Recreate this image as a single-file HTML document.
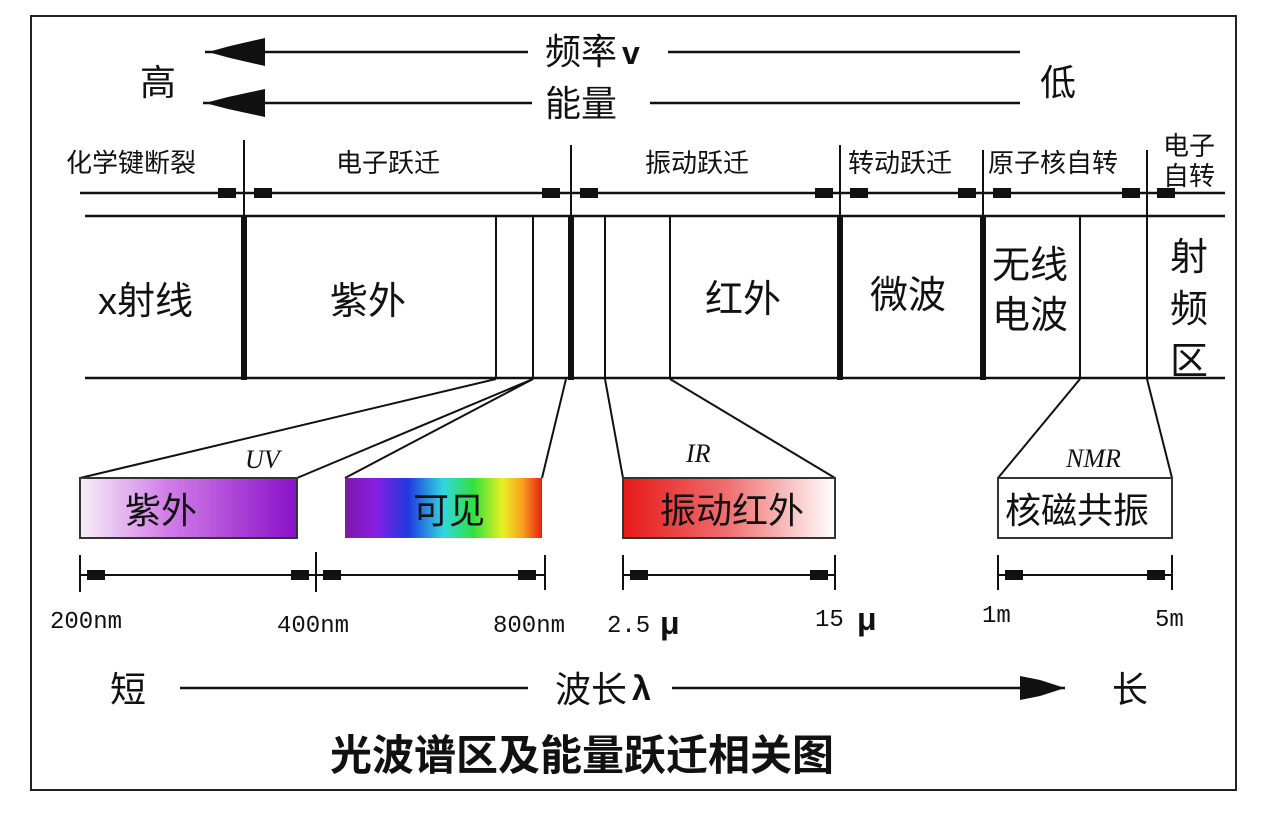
<!DOCTYPE html>
<html><head><meta charset="utf-8"><style>
body{margin:0;background:#fff;}
svg text{font-family:"Liberation Sans","Noto Sans CJK SC",sans-serif;fill:#111;}
</style></head><body>
<svg width="1280" height="810" viewBox="0 0 1280 810" xmlns="http://www.w3.org/2000/svg">
<defs>
<linearGradient id="uv" x1="0" x2="1"><stop offset="0" stop-color="#f6eef8"/><stop offset="0.4" stop-color="#d27ee8"/><stop offset="1" stop-color="#8a10c8"/></linearGradient>
<linearGradient id="vis" x1="0" x2="1"><stop offset="0" stop-color="#7a1aa8"/><stop offset="0.15" stop-color="#8a1ee0"/><stop offset="0.32" stop-color="#2038e0"/><stop offset="0.5" stop-color="#30d8e0"/><stop offset="0.65" stop-color="#30e040"/><stop offset="0.8" stop-color="#e8f020"/><stop offset="0.9" stop-color="#f8a020"/><stop offset="1" stop-color="#e82010"/></linearGradient>
<linearGradient id="ir" x1="0" x2="1"><stop offset="0" stop-color="#e81818"/><stop offset="0.5" stop-color="#f07070"/><stop offset="1" stop-color="#fff"/></linearGradient>
</defs>
<rect x="31" y="16" width="1205" height="774" fill="none" stroke="#222" stroke-width="2"/>
<g stroke="#111" stroke-width="2.5">
<line x1="205" y1="52" x2="528" y2="52"/><line x1="668" y1="52" x2="1020" y2="52"/>
<line x1="203" y1="103" x2="532" y2="103"/><line x1="650" y1="103" x2="1020" y2="103"/>
</g>
<polygon points="208,52 230,46 265,38 265,66 230,58" fill="#111"/>
<polygon points="205,103 228,97 265,89 265,117 228,109" fill="#111"/>
<text x="545" y="64" font-size="36">频率</text><text x="622" y="64" font-size="32" font-weight="bold">v</text>
<text x="545" y="116" font-size="36">能量</text>
<text x="140" y="95" font-size="36">高</text><text x="1040" y="95" font-size="36">低</text>
<g font-size="26">
<text x="66" y="172">化学键断裂</text><text x="336" y="172">电子跃迁</text><text x="645" y="172">振动跃迁</text>
<text x="848" y="172">转动跃迁</text><text x="988" y="172">原子核自转</text>
<text x="1163" y="155">电子</text><text x="1163" y="185">自转</text>
</g>
<g stroke="#111" stroke-width="2.5">
<line x1="80" y1="193" x2="1225" y2="193"/>
<line x1="85" y1="216" x2="1225" y2="216"/><line x1="85" y1="378" x2="1225" y2="378"/>
</g>
<g stroke="#111" stroke-width="2">
<line x1="244" y1="140" x2="244" y2="215"/><line x1="571" y1="145" x2="571" y2="215"/>
<line x1="840" y1="145" x2="840" y2="215"/><line x1="983" y1="150" x2="983" y2="215"/><line x1="1147" y1="150" x2="1147" y2="215"/>
</g>
<g fill="#111">
<rect x="218" y="188" width="18" height="10"/><rect x="254" y="188" width="18" height="10"/>
<rect x="542" y="188" width="18" height="10"/><rect x="580" y="188" width="18" height="10"/>
<rect x="815" y="188" width="18" height="10"/><rect x="850" y="188" width="18" height="10"/>
<rect x="958" y="188" width="18" height="10"/><rect x="993" y="188" width="18" height="10"/>
<rect x="1122" y="188" width="18" height="10"/><rect x="1157" y="188" width="18" height="10"/>
</g>
<g stroke="#111">
<line x1="244" y1="216" x2="244" y2="380" stroke-width="6"/>
<line x1="571" y1="216" x2="571" y2="380" stroke-width="6"/>
<line x1="840" y1="216" x2="840" y2="380" stroke-width="6"/>
<line x1="983" y1="216" x2="983" y2="380" stroke-width="6"/>
<g stroke-width="2">
<line x1="496" y1="216" x2="496" y2="378"/><line x1="533" y1="216" x2="533" y2="378"/>
<line x1="605" y1="216" x2="605" y2="378"/><line x1="670" y1="216" x2="670" y2="378"/>
<line x1="1080" y1="216" x2="1080" y2="378"/><line x1="1147" y1="216" x2="1147" y2="378"/>
</g>
</g>
<g font-size="38">
<text x="98" y="314">x射线</text><text x="330" y="314">紫外</text><text x="705" y="312">红外</text>
<text x="870" y="308">微波</text><text x="992" y="278">无线</text><text x="992" y="328">电波</text>
<text x="1170" y="270">射</text><text x="1170" y="322">频</text><text x="1170" y="374">区</text>
</g>
<g stroke="#111" stroke-width="2" fill="none">
<line x1="496" y1="379" x2="80" y2="478"/><line x1="533" y1="379" x2="297" y2="478"/>
<line x1="533" y1="379" x2="345" y2="478"/><line x1="566" y1="379" x2="542" y2="478"/>
<line x1="605" y1="379" x2="623" y2="478"/><line x1="670" y1="379" x2="835" y2="478"/>
<line x1="1080" y1="379" x2="998" y2="478"/><line x1="1147" y1="379" x2="1172" y2="478"/>
</g>
<rect x="80" y="478" width="217" height="60" fill="url(#uv)" stroke="#333" stroke-width="2"/>
<rect x="345" y="478" width="197" height="60" fill="url(#vis)"/>
<rect x="623" y="478" width="212" height="60" fill="url(#ir)" stroke="#333" stroke-width="2"/>
<rect x="998" y="478" width="174" height="60" fill="#fff" stroke="#333" stroke-width="2"/>
<g font-size="36">
<text x="125" y="523">紫外</text><text x="413" y="523">可见</text><text x="660" y="523">振动红外</text><text x="1005" y="523">核磁共振</text>
</g>
<g font-size="26" font-style="italic" font-family="Liberation Serif,serif">
<text x="245" y="468" style="font-family:'Liberation Serif',serif">UV</text>
<text x="686" y="462" style="font-family:'Liberation Serif',serif">IR</text>
<text x="1066" y="467" style="font-family:'Liberation Serif',serif">NMR</text>
</g>
<g stroke="#111" stroke-width="2">
<line x1="80" y1="555" x2="80" y2="592"/><line x1="316" y1="552" x2="316" y2="592"/><line x1="545" y1="555" x2="545" y2="590"/>
<line x1="623" y1="555" x2="623" y2="590"/><line x1="835" y1="555" x2="835" y2="590"/>
<line x1="998" y1="555" x2="998" y2="590"/><line x1="1172" y1="555" x2="1172" y2="590"/>
<line x1="80" y1="575" x2="545" y2="575"/><line x1="623" y1="575" x2="835" y2="575"/><line x1="998" y1="575" x2="1172" y2="575"/>
<line x1="180" y1="688" x2="528" y2="688" stroke-width="2.5"/><line x1="672" y1="688" x2="1065" y2="688" stroke-width="2.5"/>
</g>
<g fill="#111">
<rect x="87" y="570" width="18" height="10"/><rect x="291" y="570" width="18" height="10"/>
<rect x="323" y="570" width="18" height="10"/><rect x="518" y="570" width="18" height="10"/>
<rect x="630" y="570" width="18" height="10"/><rect x="810" y="570" width="18" height="10"/>
<rect x="1005" y="570" width="18" height="10"/><rect x="1147" y="570" width="18" height="10"/>
<polygon points="1065,688 1040,680 1020,676 1020,700 1040,696"/>
</g>
<g font-size="24" style="font-family:'Liberation Mono',monospace">
<text x="50" y="628" style="font-family:'Liberation Mono',monospace">200nm</text>
<text x="277" y="632" style="font-family:'Liberation Mono',monospace">400nm</text>
<text x="493" y="632" style="font-family:'Liberation Mono',monospace">800nm</text>
<text x="607" y="632" style="font-family:'Liberation Mono',monospace">2.5</text>
<text x="815" y="626" style="font-family:'Liberation Mono',monospace">15</text>
<text x="982" y="622" style="font-family:'Liberation Mono',monospace">1m</text>
<text x="1155" y="626" style="font-family:'Liberation Mono',monospace">5m</text>
</g>
<text x="660" y="634" font-size="32" font-weight="bold">μ</text>
<text x="857" y="630" font-size="32" font-weight="bold">μ</text>
<text x="110" y="702" font-size="36">短</text>
<text x="555" y="702" font-size="36">波长</text><text x="632" y="700" font-size="34" font-weight="bold">λ</text>
<text x="1112" y="702" font-size="36">长</text>
<text x="330" y="770" font-size="42" font-weight="bold">光波谱区及能量跃迁相关图</text>
</svg>
</body></html>
